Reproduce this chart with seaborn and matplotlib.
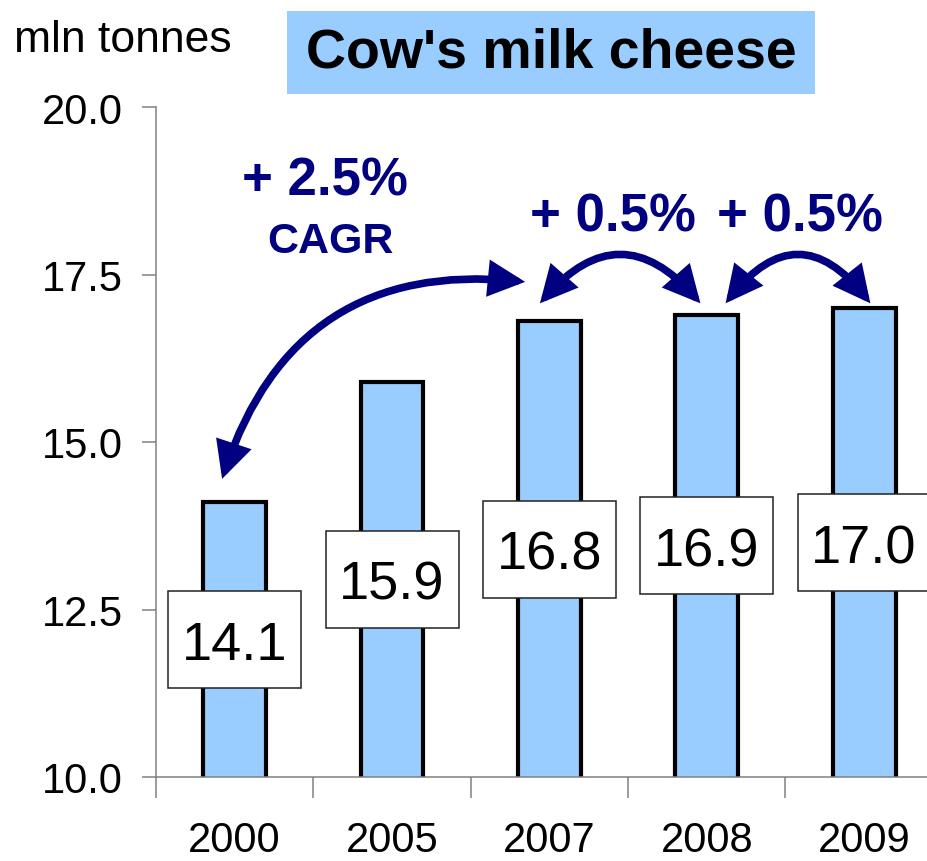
import matplotlib
matplotlib.use("Agg")
import matplotlib.pyplot as plt
import matplotlib.patches as mpatches
import seaborn as sns
import pandas as pd

# ---- data ----
years = ["2000", "2005", "2007", "2008", "2009"]
values = [14.1, 15.9, 16.8, 16.9, 17.0]
value_labels = ["14.1", "15.9", "16.8", "16.9", "17.0"]
y_ticks = [10.0, 12.5, 15.0, 17.5, 20.0]
title = "Cow's milk cheese"
unit_label = "mln tonnes"
growth_texts = ["+ 2.5%", "CAGR", "+ 0.5%", "+ 0.5%"]

sns.set_style("white")
plt.rcParams["font.family"] = ["Liberation Sans", "DejaVu Sans"]
plt.rcParams["text.color"] = "black"
plt.rcParams["xtick.labelcolor"] = "black"
plt.rcParams["ytick.labelcolor"] = "black"

BAR = "#99CCFF"
NAVY = "#000080"
GRAY = "#808080"

fig = plt.figure(figsize=(9.27, 8.62), dpi=100)
W, H = 927, 862
ax = fig.add_axes([156 / W, 1 - 778 / H, (927 - 156) / W, (778 - 108) / H])

df = pd.DataFrame({"year": years, "value": values})
sns.barplot(data=df, x="year", y="value", color=BAR, saturation=1,
            edgecolor="black", linewidth=3, width=0.4, ax=ax, zorder=2)

ax.set_ylim(10, 20)
ax.set_xlim(-0.5, 4.4)
ax.set_yticks(y_ticks)
ax.set_yticklabels([f"{t:.1f}" for t in y_ticks])
ax.set_xlabel("")
ax.set_ylabel("")

for s in ["top", "right"]:
    ax.spines[s].set_visible(False)
for s in ["left", "bottom"]:
    ax.spines[s].set_color(GRAY)
    ax.spines[s].set_linewidth(1.1)

ax.tick_params(axis="y", direction="out", length=10, width=1.1, color=GRAY,
               pad=14, labelsize=30, left=True, labelcolor="black")
ax.tick_params(axis="x", which="major", length=0, pad=31, labelsize=30,
               labelcolor="black")
ax.set_xticks([i - 0.5 for i in range(len(years))], minor=True)
ax.tick_params(axis="x", which="minor", direction="out", length=15, width=1.1,
               color=GRAY, bottom=True)

# value label boxes at mid-height of each bar
box_w = 133 / 157.3   # data units (x)
box_h = 97 / 67.0     # data units (y)
for i, (v, lab) in enumerate(zip(values, value_labels)):
    yc = (10 + v) / 2
    ax.add_patch(mpatches.Rectangle((i - box_w / 2, yc - box_h / 2), box_w, box_h,
                                    facecolor="white", edgecolor="#222222",
                                    linewidth=1.1, zorder=3))
    ax.text(i, yc, lab, ha="center", va="center_baseline", fontsize=39,
            zorder=4, color="black")

# title box
fig.patches.append(mpatches.Rectangle((287 / W, 1 - 95 / H), 528 / W, 83 / H,
                                      transform=fig.transFigure,
                                      facecolor=BAR, edgecolor="none"))
fig.text(551 / W, 1 - 54 / H, title, ha="center", va="center",
         fontsize=40, fontweight="bold", color="black")

fig.text(14 / W, 1 - 52 / H, unit_label, ha="left", va="baseline", fontsize=32)

# growth annotations
ax.text(0.574, 18.70, growth_texts[0], ha="center", va="baseline",
        fontsize=38, fontweight="bold", color=NAVY)
ax.text(0.606, 17.84, growth_texts[1], ha="center", va="baseline",
        fontsize=31, fontweight="bold", color=NAVY)
ax.text(2.405, 18.15, growth_texts[2], ha="center", va="baseline",
        fontsize=38, fontweight="bold", color=NAVY)
ax.text(3.594, 18.15, growth_texts[3], ha="center", va="baseline",
        fontsize=38, fontweight="bold", color=NAVY)

arrow_kw = dict(arrowstyle="<|-|>,head_length=1.0,head_width=0.5",
                color=NAVY, lw=5.5, shrinkA=0, shrinkB=0, mutation_scale=18,
                joinstyle="miter")
arrows = [((-0.08, 14.45), (1.846, 17.39), -0.40),
          ((1.94, 17.07), (2.96, 17.07), -0.57),
          ((3.12, 17.07), (4.04, 17.07), -0.63)]
for a, b, rad in arrows:
    ax.annotate("", xy=b, xytext=a, zorder=5, annotation_clip=False,
                arrowprops=dict(connectionstyle=f"arc3,rad={rad}", **arrow_kw))

fig.savefig("out.png", dpi=100)
